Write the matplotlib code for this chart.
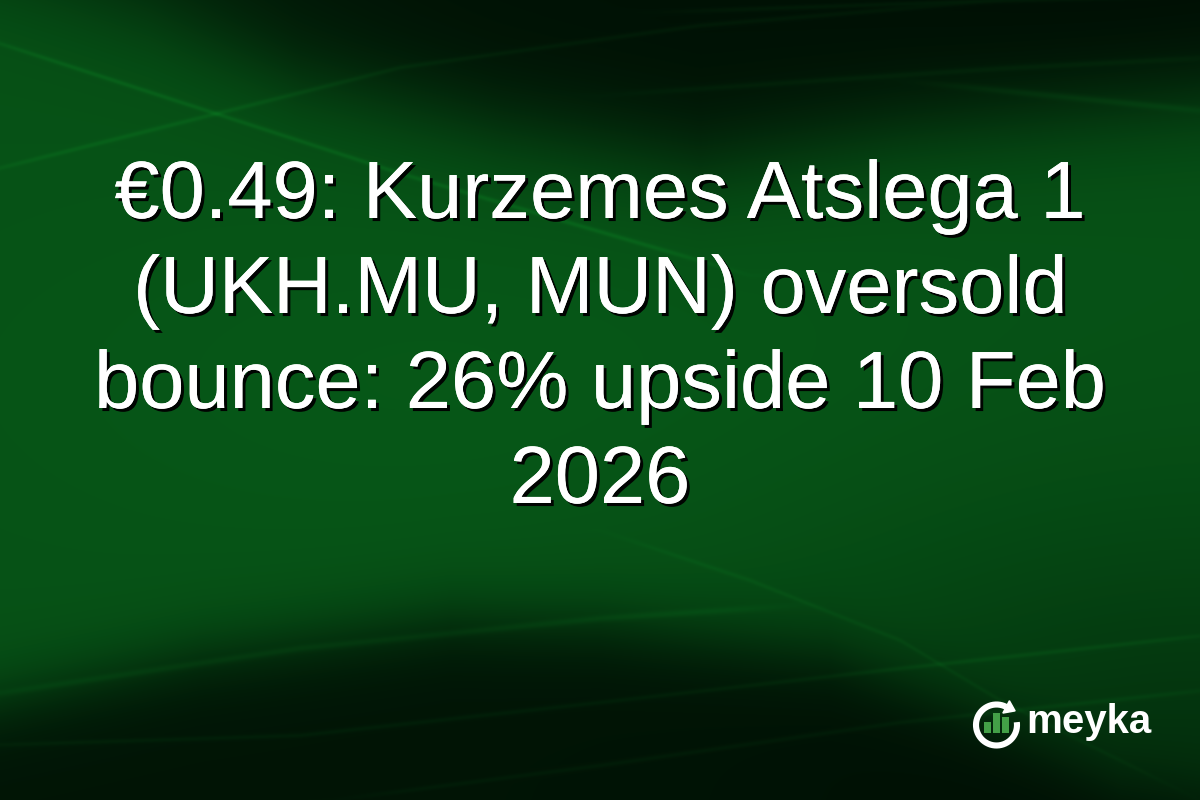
import numpy as np
import matplotlib.pyplot as plt
import matplotlib.patheffects as pe
from matplotlib.patches import Rectangle, Polygon

# Title text, one entry per line
title_lines = [
    "€0.49: Kurzemes Atslega 1",
    "(UKH.MU, MUN) oversold",
    "bounce: 26% upside 10 Feb",
    "2026",
]
brand = "meyka"

# Logo bars (relative heights of the three green bars)
logo_bars = [11, 20, 16]

W, H = 1200, 800
fig = plt.figure(figsize=(12, 8), dpi=100)
ax = fig.add_axes([0, 0, 1, 1])
ax.set_xlim(0, W)
ax.set_ylim(H, 0)
ax.axis("off")

# ---- background: green field with dark swooshes and thin light streaks
yy, xx = np.mgrid[0:H, 0:W].astype(float)


def curve(px, py):
    return np.interp(xx, px, py)


def smooth(v):
    return 1 / (1 + np.exp(-v))


B = np.full((H, W), 0.85)
# top dark band
top = curve([0, 150, 300, 500, 700, 900, 1200], [-30, 15, 75, 125, 160, 125, 85])
B *= 0.12 + 0.88 * smooth((yy - top) / 30)
# top-left corner a bit greener
B += 0.22 * np.exp(-((xx / 260) ** 2 + (yy / 140) ** 2)) * smooth((top - yy) / 30)
# bottom dark swoosh
bot = curve([0, 200, 450, 600, 830, 950, 1120, 1200], [700, 655, 620, 625, 655, 705, 785, 800])
B *= 0.16 + 0.84 * smooth((bot - yy) / 22)
# falloff towards the right-hand corners
B *= 1 - 0.45 * np.exp(-(((xx - 1200) / 450) ** 2 + ((yy - 800) / 260) ** 2))
B *= 1 - 0.35 * np.exp(-(((xx - 1200) / 380) ** 2 + ((yy - 0) / 110) ** 2))
# slight lift in the middle
B *= 1 + 0.08 * np.exp(-(((xx - 450) / 500) ** 2 + ((yy - 380) / 200) ** 2))

streaks = [
    ([-50, 400, 750], [27, 173, 275], 0.22, 2.5),
    ([-50, 400, 700, 1000], [180, 67, 25, 0], 0.18, 2.5),
    ([650, 1000, 1200], [12, 0, -5], 0.20, 2.5),
    ([600, 850, 1000, 1250], [95, 78, 68, 55], 0.18, 3.0),
    ([900, 1050, 1250], [80, 95, 115], 0.22, 3.5),
    ([-50, 300, 600, 800], [700, 648, 618, 605], 0.18, 3.5),
    ([-50, 300, 600, 900, 1250], [746, 735, 702, 668, 630], 0.18, 2.5),
    ([330, 600, 900, 1250], [800, 765, 722, 685], 0.16, 2.5),
    ([600, 750, 900, 1000, 1200], [530, 580, 640, 700, 800], 0.12, 2.5),
]
S = np.zeros((H, W))
for px, py, s, w in streaks:
    win = smooth((xx - px[0] - 40) / 25) * smooth((px[-1] - 40 - xx) / 25)
    S += s * win * np.exp(-((yy - curve(px, py)) / w) ** 2)
B = np.clip(B + S * (0.5 + 0.5 * B), 0, 1.3)

dark = np.array([0.0, 0.035, 0.01])
bright = np.array([0.03, 0.37, 0.10])
img = np.clip(dark + B[..., None] * (bright - dark), 0, 1)
ax.imshow(img, extent=(0, W, H, 0), aspect="auto", zorder=0, interpolation="bilinear")

# ---- title
shadow = [pe.withSimplePatchShadow(offset=(2.2, -2.2), shadow_rgbFace="black", alpha=0.95),
          pe.Normal()]
base0, spacing = 218, 95
for i, line in enumerate(title_lines):
    ax.text(W / 2, base0 + i * spacing, line, ha="center", va="baseline",
            fontsize=58.5, color="white", family=["Liberation Sans", "DejaVu Sans"],
            path_effects=shadow, zorder=5)

# ---- logo: circular arrow with three green bars
cx, cy, rad = 996.5, 725, 20.5
ang = np.radians(np.linspace(62, 368, 200))
ax.plot(cx + rad * np.cos(ang), cy - rad * np.sin(ang), color="white", lw=4.4,
        solid_capstyle="butt", zorder=6)
a0 = np.radians(62)
tip = (cx + rad * np.cos(a0) + 9, cy - rad * np.sin(a0) + 4)
ax.add_patch(Polygon([[cx + (rad - 7) * np.cos(a0), cy - (rad - 7) * np.sin(a0)],
                      [cx + (rad + 7) * np.cos(a0), cy - (rad + 7) * np.sin(a0)],
                      list(tip)], closed=True, color="white", zorder=6))
bar_left = [984, 993, 1002]
for bx, bh in zip(bar_left, logo_bars):
    ax.add_patch(Rectangle((bx, 733 - bh), 7, bh, color="#43a047", lw=0, zorder=7))
ax.text(1026, 733, brand, ha="left", va="baseline", fontsize=29, fontweight="bold",
        color="white", family=["Liberation Sans", "DejaVu Sans"], zorder=6)

fig.savefig("out.png", dpi=100)
